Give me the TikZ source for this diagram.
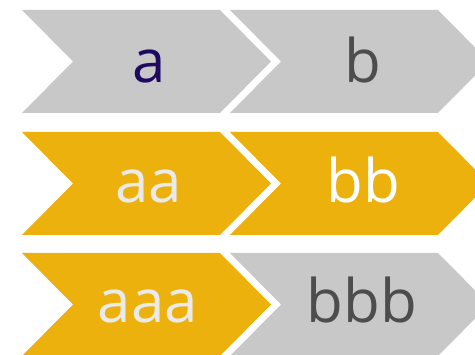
\documentclass[tikz,border=0pt]{standalone}
\usepackage{fontspec}
\setmainfont{Open Sans}
\usetikzlibrary{positioning}
\definecolor{chevgray}{RGB}{200,200,200}
\definecolor{chevgold}{RGB}{237,177,13}
\definecolor{inkblue}{RGB}{32,10,96}
\definecolor{inkgray}{RGB}{77,77,77}
\definecolor{inklight}{RGB}{234,234,234}

\begin{document}
\begin{tikzpicture}[x=1pt, y=-1pt,
    steplabel/.style={font=\fontsize{60}{60}\selectfont, anchor=base, inner sep=0pt}]
        % Canvas
        \useasboundingbox (0,0) rectangle (475,355);
        \clip (0,0) rectangle (475,355);

        % Row 1
        \fill[chevgray] (22,10) -- (220,10) -- (271,61.5) -- (220,113) -- (22,113) -- (73,61.5) -- cycle;
        \fill[chevgray] (230,10) -- (438,10) -- (489,61.5) -- (438,113) -- (230,113) -- (281,61.5) -- cycle;
        \node[steplabel, text=inkblue] (a) at (149,83) {a};
        \node[steplabel, text=inkgray] (b) at (363,83) {b};

        % Row 2
        \fill[chevgold] (22,132) -- (220,132) -- (271,183.5) -- (220,235) -- (22,235) -- (73,183.5) -- cycle;
        \fill[chevgold] (230,132) -- (438,132) -- (489,183.5) -- (438,235) -- (230,235) -- (281,183.5) -- cycle;
        \node[steplabel, text=inklight] (aa) at (149,203) {aa};
        \node[steplabel, text=white] (bb) at (363,203) {bb};

        % Row 3
        \fill[chevgold] (22,253) -- (220,253) -- (271,304.5) -- (220,356) -- (22,356) -- (73,304.5) -- cycle;
        \fill[chevgray] (230,253) -- (438,253) -- (489,304.5) -- (438,356) -- (230,356) -- (281,304.5) -- cycle;
        \node[steplabel, text=inklight] (aaa) at (148,323) {aaa};
        \node[steplabel, text=inkgray] (bbb) at (362,323) {bbb};
\end{tikzpicture}
\end{document}
